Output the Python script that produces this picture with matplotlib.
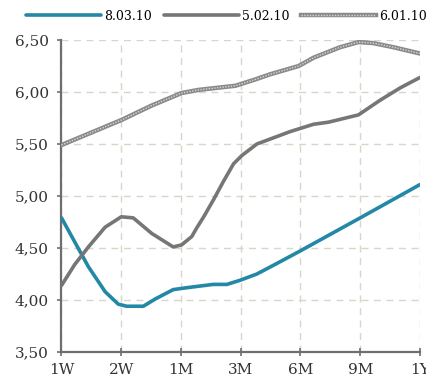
import matplotlib
matplotlib.use('Agg')
import matplotlib.pyplot as plt
from matplotlib.ticker import FuncFormatter

tenors = ['1W', '2W', '1M', '3M', '6M', '9M', '1Y']

x_0803 = [0, 0.22, 0.45, 0.73, 0.95, 1.09, 1.37, 1.57, 1.87, 2.12, 2.54, 2.77,
          2.99, 3.27, 3.60, 3.99, 5.00, 6.00]
y_0803 = [4.79, 4.56, 4.32, 4.08, 3.96, 3.94, 3.94, 4.01, 4.10, 4.12, 4.15, 4.15,
          4.19, 4.25, 4.35, 4.47, 4.79, 5.11]

x_0502 = [0, 0.22, 0.45, 0.73, 1.0, 1.20, 1.51, 1.87, 2.01, 2.18, 2.26, 2.38,
          2.54, 2.71, 2.88, 3.02, 3.27, 3.55, 3.83, 4.22, 4.47, 4.97, 5.33, 5.67, 6.00]
y_0502 = [4.14, 4.34, 4.51, 4.70, 4.80, 4.79, 4.64, 4.51, 4.53, 4.61, 4.69, 4.80,
          4.96, 5.14, 5.31, 5.39, 5.50, 5.56, 5.62, 5.69, 5.71, 5.78, 5.92, 6.04, 6.14]

x_0601 = [0, 1.0, 1.51, 2.01, 2.29, 2.91, 3.24, 3.49, 3.97, 4.22, 4.66, 4.97,
          5.22, 5.56, 6.00]
y_0601 = [5.49, 5.73, 5.87, 5.99, 6.02, 6.06, 6.12, 6.17, 6.25, 6.33, 6.43, 6.48,
          6.47, 6.43, 6.37]

yticks = [3.5, 4.0, 4.5, 5.0, 5.5, 6.0, 6.5]

plt.rcParams['font.family'] = ['DejaVu Serif']

fig = plt.figure(figsize=(4.27, 3.80), dpi=100)
ax = fig.add_axes([61.5 / 427, 1 - 352 / 380, (420 - 61.5) / 427, (352 - 40) / 380])

l1, = ax.plot(x_0803, y_0803, color='#2388a6', lw=2.6, solid_capstyle='round',
              solid_joinstyle='round', zorder=3)
l2, = ax.plot(x_0502, y_0502, color='#767676', lw=2.6, solid_capstyle='round',
              solid_joinstyle='round', zorder=3)
l3a, = ax.plot(x_0601, y_0601, color='#8a8a8a', lw=3.2, zorder=3)
l3b, = ax.plot(x_0601, y_0601, color='#d6d6d6', lw=1.0, linestyle=(0, (1, 1)), zorder=4)

ax.set_xlim(0, 6)
ax.set_ylim(3.5, 6.5)
ax.set_xticks(range(len(tenors)))
ax.set_xticklabels(tenors)
ax.set_yticks(yticks)
ax.yaxis.set_major_formatter(FuncFormatter(lambda v, p: f'{v:.2f}'.replace('.', ',')))

ax.grid(True, color='#d9d5c9', lw=1.0, linestyle=(0, (5, 4)))
ax.set_axisbelow(True)
for s in ['top', 'right']:
    ax.spines[s].set_visible(False)
for s in ['left', 'bottom']:
    ax.spines[s].set_color('#6e6e6e')
    ax.spines[s].set_linewidth(1.6)
ax.tick_params(axis='y', direction='out', length=3, width=1.2, color='#6e6e6e',
               labelsize=11, labelcolor='#333333', pad=6)
ax.tick_params(axis='x', direction='inout', length=6, width=1.2, color='#6e6e6e',
               labelsize=11, labelcolor='#333333', pad=5)

fig.legend([l1, l2, (l3a, l3b)], ['8.03.10', '5.02.10', '6.01.10'],
           loc='center left', bbox_to_anchor=(26 / 427, 1 - 16 / 380), ncol=3,
           frameon=False, fontsize=9, handlelength=6.0, handletextpad=0.24,
           columnspacing=0.96, borderpad=0.0, borderaxespad=0.0)

fig.savefig('out.png', dpi=100)
